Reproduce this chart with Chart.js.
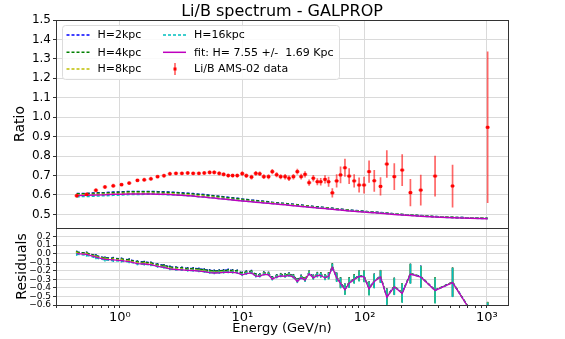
<!DOCTYPE html>
<html>
<head>
<meta charset="utf-8">
<script src="https://cdn.jsdelivr.net/npm/chart.js@4.4.1/dist/chart.umd.min.js"></script>
<style>
  body { margin: 0; background: #fff; }
  canvas { display: block; }
</style>
</head>
<body>
<canvas id="myChart" width="565" height="339"></canvas>
<script>
// Li/B AMS-02 points (GeV/n)
const energy = [0.443, 0.534, 0.636, 0.754, 0.882, 1.03, 1.19, 1.39, 1.58, 1.79,
  2.03, 2.29, 2.56, 2.87, 3.21, 3.58, 3.97, 4.42, 4.89, 5.41,
  5.90, 6.48, 7.04, 7.68, 8.34, 9.10, 10.0, 10.8, 11.9, 12.9,
  13.9, 15.0, 16.4, 17.6, 19.1, 20.6, 22.4, 24.1, 26.2, 28.2,
  30.3, 32.6, 35.2, 38.1, 41.1, 43.8, 47.5, 50.8, 54.5, 59.1,
  63.6, 69.1, 74.8, 82.2, 90.2, 99.0, 108.8, 120, 135, 152,
  175, 203, 237, 288, 377, 524, 1014]
const ratio = [0.596, 0.603, 0.624, 0.641, 0.647, 0.653, 0.661, 0.675, 0.678, 0.683,
  0.694, 0.699, 0.709, 0.711, 0.711, 0.713, 0.711, 0.711, 0.713, 0.716,
  0.716, 0.711, 0.706, 0.700, 0.700, 0.700, 0.710, 0.699, 0.692, 0.711,
  0.709, 0.694, 0.694, 0.720, 0.704, 0.694, 0.694, 0.686, 0.694, 0.720,
  0.694, 0.706, 0.663, 0.686, 0.668, 0.668, 0.680, 0.668, 0.611, 0.672,
  0.703, 0.740, 0.697, 0.672, 0.651, 0.651, 0.720, 0.673, 0.644, 0.759,
  0.694, 0.728, 0.612, 0.625, 0.697, 0.646, 0.948]
const ratioErr = [0.010, 0.010, 0.010, 0.010, 0.010, 0.010, 0.010, 0.010, 0.010, 0.010,
  0.010, 0.010, 0.010, 0.010, 0.010, 0.010, 0.010, 0.010, 0.010, 0.011,
  0.011, 0.011, 0.011, 0.011, 0.011, 0.011, 0.012, 0.012, 0.012, 0.012,
  0.012, 0.012, 0.013, 0.013, 0.013, 0.013, 0.014, 0.014, 0.014, 0.015,
  0.015, 0.016, 0.016, 0.017, 0.018, 0.019, 0.021, 0.026, 0.024, 0.034,
  0.043, 0.046, 0.041, 0.034, 0.039, 0.043, 0.057, 0.056, 0.047, 0.071,
  0.069, 0.082, 0.070, 0.079, 0.105, 0.110, 0.390]

// GALPROP predictions at the same energies
const modelH2 = [0.607, 0.608, 0.611, 0.612, 0.615, 0.616, 0.618, 0.618, 0.618, 0.618,
  0.617, 0.616, 0.615, 0.613, 0.611, 0.609, 0.607, 0.604, 0.602, 0.599,
  0.596, 0.593, 0.591, 0.588, 0.585, 0.583, 0.579, 0.577, 0.574, 0.572,
  0.569, 0.567, 0.565, 0.562, 0.560, 0.558, 0.556, 0.554, 0.552, 0.550,
  0.548, 0.545, 0.543, 0.541, 0.539, 0.537, 0.535, 0.533, 0.531, 0.529,
  0.527, 0.525, 0.522, 0.520, 0.518, 0.516, 0.514, 0.512, 0.510, 0.507,
  0.503, 0.500, 0.497, 0.494, 0.489, 0.485, 0.480]
const modelH4 = [0.606, 0.607, 0.609, 0.610, 0.613, 0.614, 0.616, 0.616, 0.616, 0.616,
  0.615, 0.614, 0.613, 0.611, 0.609, 0.607, 0.605, 0.602, 0.600, 0.597,
  0.595, 0.592, 0.589, 0.586, 0.584, 0.582, 0.578, 0.576, 0.573, 0.571,
  0.568, 0.566, 0.564, 0.561, 0.559, 0.557, 0.555, 0.553, 0.551, 0.549,
  0.547, 0.545, 0.543, 0.540, 0.538, 0.537, 0.535, 0.533, 0.531, 0.528,
  0.526, 0.524, 0.522, 0.520, 0.518, 0.516, 0.513, 0.511, 0.509, 0.506,
  0.503, 0.500, 0.497, 0.493, 0.489, 0.485, 0.480]
const modelH8 = [0.600, 0.601, 0.603, 0.604, 0.606, 0.608, 0.609, 0.609, 0.609, 0.609,
  0.608, 0.607, 0.606, 0.604, 0.602, 0.600, 0.598, 0.595, 0.593, 0.590,
  0.588, 0.585, 0.582, 0.579, 0.577, 0.575, 0.572, 0.570, 0.568, 0.566,
  0.564, 0.562, 0.560, 0.558, 0.556, 0.554, 0.552, 0.550, 0.548, 0.546,
  0.544, 0.542, 0.540, 0.537, 0.535, 0.534, 0.532, 0.530, 0.528, 0.526,
  0.524, 0.522, 0.520, 0.518, 0.516, 0.514, 0.512, 0.510, 0.508, 0.505,
  0.502, 0.499, 0.496, 0.492, 0.488, 0.484, 0.479]
const modelH16 = [0.591, 0.592, 0.594, 0.596, 0.598, 0.600, 0.602, 0.602, 0.603, 0.603,
  0.603, 0.602, 0.601, 0.599, 0.598, 0.596, 0.594, 0.591, 0.589, 0.587,
  0.585, 0.582, 0.580, 0.577, 0.575, 0.573, 0.570, 0.568, 0.566, 0.564,
  0.562, 0.560, 0.558, 0.556, 0.554, 0.552, 0.550, 0.548, 0.546, 0.544,
  0.542, 0.540, 0.538, 0.536, 0.534, 0.533, 0.531, 0.529, 0.527, 0.525,
  0.523, 0.521, 0.519, 0.517, 0.515, 0.513, 0.511, 0.509, 0.507, 0.504,
  0.501, 0.498, 0.495, 0.491, 0.487, 0.483, 0.478]
const modelFit = [0.597, 0.598, 0.600, 0.601, 0.603, 0.604, 0.605, 0.605, 0.605, 0.605,
  0.604, 0.603, 0.602, 0.600, 0.598, 0.596, 0.594, 0.591, 0.589, 0.586,
  0.584, 0.581, 0.579, 0.576, 0.574, 0.572, 0.569, 0.567, 0.565, 0.563,
  0.561, 0.559, 0.557, 0.555, 0.553, 0.551, 0.549, 0.547, 0.545, 0.543,
  0.541, 0.539, 0.537, 0.535, 0.533, 0.532, 0.530, 0.528, 0.526, 0.524,
  0.522, 0.520, 0.518, 0.516, 0.514, 0.512, 0.510, 0.508, 0.506, 0.503,
  0.500, 0.497, 0.494, 0.491, 0.487, 0.483, 0.478]

const ratioTicks = [0.5, 0.6, 0.7, 0.8, 0.9, 1.0, 1.1, 1.2, 1.3, 1.4, 1.5]
const residTicks = [-0.6, -0.5, -0.4, -0.3, -0.2, -0.1, 0.0, 0.1, 0.2]
const decadeTicks = [1, 10, 100, 1000]
const decadeLabels = ['10⁰', '10¹', '10²', '10³']

const FONT = '"DejaVu Sans", sans-serif'
Chart.defaults.font.family = FONT
Chart.defaults.color = '#000'

// x ticks: decades plus 2..9 minors inside the range
const xTicks = []
;[0.1, 1, 10, 100, 1000].forEach(d => {
  for (let k = 1; k <= 9; k++) {
    const v = +(d * k).toPrecision(3)
    if (v >= 0.3 && v <= 1488) xTicks.push(v)
  }
})

const pts = ys => ys.map((y, i) => ({x: energy[i], y: y}))
const resid = model => model.map((m, i) => (m - ratio[i]) / m)
const residErr = ratio.map((r, i) => ratioErr[i] / r)

const models = [
  {label: 'H=2kpc', data: modelH2, color: '#0000ff', dash: [3, 2]},
  {label: 'H=4kpc', data: modelH4, color: '#008000', dash: [3, 2]},
  {label: 'H=8kpc', data: modelH8, color: '#bfbf00', dash: [3, 2]},
  {label: 'H=16kpc', data: modelH16, color: '#00bfbf', dash: [3, 2]},
  {label: 'fit: H= 7.55 +/-  1.69 Kpc', data: modelFit, color: '#bf00bf', dash: []},
]

const datasets = []
models.forEach((m, i) => {
  datasets.push({
    label: m.label, data: pts(m.data), yAxisID: 'y',
    borderColor: m.color, borderDash: m.dash, borderWidth: 1.5,
    pointRadius: 0, fill: false, tension: 0, order: 10 - i,
  })
  datasets.push({
    label: m.label + ' res', data: pts(resid(m.data)), yAxisID: 'yRes',
    borderColor: m.color, borderDash: m.dash, borderWidth: 1.3,
    pointRadius: 0, fill: false, tension: 0, order: 10 - i,
    errors: i < 4 ? residErr : null, errorColor: m.color, errorWidth: 1.5,
  })
})
datasets.push({
  label: 'Li/B AMS-02 data', data: pts(ratio), yAxisID: 'y',
  showLine: false, pointStyle: 'rect', pointRadius: 2.1,
  backgroundColor: '#ff0000', borderWidth: 0, order: 0,
  errors: ratioErr, errorColor: 'rgba(255,0,0,0.6)', errorWidth: 1.7, errorCap: 2.2,
})

const errorBars = {
  id: 'errorBars',
  beforeDatasetDraw(chart, args) {
    const ds = chart.data.datasets[args.index]
    if (!ds.errors) return
    const xs = chart.scales.x, ys = chart.scales[ds.yAxisID]
    const ctx = chart.ctx
    ctx.save()
    ctx.beginPath()
    ctx.rect(xs.left, ys.top, xs.right - xs.left, ys.bottom - ys.top)
    ctx.clip()
    ctx.strokeStyle = ds.errorColor
    ctx.lineWidth = ds.errorWidth
    ds.data.forEach((p, i) => {
      const px = xs.getPixelForValue(p.x)
      const py = ys.getPixelForValue(p.y)
      ctx.beginPath()
      ctx.moveTo(px, ys.getPixelForValue(p.y - ds.errors[i]))
      ctx.lineTo(px, ys.getPixelForValue(p.y + ds.errors[i]))
      if (ds.errorCap) {
        ctx.moveTo(px - ds.errorCap, py)
        ctx.lineTo(px + ds.errorCap, py)
      }
      ctx.stroke()
    })
    ctx.restore()
  }
}

const decor = {
  id: 'decor',
  afterDraw(chart) {
    const ctx = chart.ctx
    const xs = chart.scales.x
    ctx.save()
    // frames round both panels
    ctx.strokeStyle = '#333'
    ctx.lineWidth = 1
    ;['y', 'yRes'].forEach(id => {
      const s = chart.scales[id]
      ctx.strokeRect(Math.round(xs.left) + 0.5, Math.round(s.top) + 0.5,
        Math.round(xs.right - xs.left), Math.round(s.bottom - s.top))
    })
    // title
    ctx.fillStyle = '#000'
    ctx.font = '16px ' + FONT
    ctx.textAlign = 'center'
    ctx.textBaseline = 'alphabetic'
    ctx.fillText('Li/B spectrum - GALPROP', (xs.left + xs.right) / 2, 16)

    // legend, two columns
    const bx = xs.left + 6.5, by = 25.5
    ctx.beginPath()
    ctx.roundRect(bx, by, 277, 54, 3)
    ctx.fillStyle = 'rgba(255,255,255,0.85)'
    ctx.fill()
    ctx.strokeStyle = '#dcdcdc'
    ctx.stroke()
    const rows = [35, 52.3, 69]
    const cols = [xs.left + 10.5, xs.left + 107]
    const entries = models.map(m => ({label: m.label, color: m.color, dash: m.dash}))
    entries.push({label: 'Li/B AMS-02 data', data: true})
    ctx.font = '11px ' + FONT
    ctx.textAlign = 'left'
    ctx.textBaseline = 'middle'
    entries.forEach((e, i) => {
      const cx = cols[Math.floor(i / 3)], cy = rows[i % 3]
      if (e.data) {
        ctx.strokeStyle = 'rgba(255,0,0,0.6)'
        ctx.lineWidth = 1.7
        ctx.setLineDash([])
        ctx.beginPath()
        ctx.moveTo(cx + 12, cy - 6)
        ctx.lineTo(cx + 12, cy + 6)
        ctx.stroke()
        ctx.fillStyle = '#ff0000'
        ctx.fillRect(cx + 10.5, cy - 1.5, 3, 3)
      } else {
        ctx.strokeStyle = e.color
        ctx.lineWidth = 1.5
        ctx.setLineDash(e.dash)
        ctx.beginPath()
        ctx.moveTo(cx, cy)
        ctx.lineTo(cx + 23, cy)
        ctx.stroke()
        ctx.setLineDash([])
      }
      ctx.fillStyle = '#000'
      ctx.fillText(e.label, cx + 31, cy + 0.5)
    })
    ctx.restore()
  }
}

const gridColor = '#dadada'

const config = {
  type: 'line',
  data: {datasets: datasets},
  plugins: [errorBars, decor],
  options: {
    responsive: false,
    animation: false,
    layout: {padding: {top: 20, right: 57, left: 0, bottom: 0}},
    plugins: {
      legend: {display: false},
      title: {display: false},
      tooltip: {enabled: false},
    },
    scales: {
      x: {
        type: 'logarithmic',
        position: 'bottom',
        min: 0.3,
        max: 1488,
        afterBuildTicks: s => { s.ticks = xTicks.map(v => ({value: v})) },
        afterFit: s => { s.height = 34 },
        border: {display: false},
        grid: {
          color: c => decadeTicks.includes(c.tick && c.tick.value) ? gridColor : 'rgba(0,0,0,0)',
          tickColor: '#333',
          tickLength: 3,
        },
        ticks: {
          autoSkip: false,
          maxRotation: 0,
          padding: 2,
          font: {size: 13},
          callback: v => {
            const k = decadeTicks.indexOf(v)
            return k >= 0 ? decadeLabels[k] : ''
          },
        },
        title: {
          display: true,
          text: 'Energy (GeV/n)',
          font: {size: 13},
          padding: {top: 0, bottom: 3},
        },
      },
      // residual panel is listed first so the stack puts it below the ratio panel
      yRes: {
        type: 'linear',
        position: 'left',
        stack: 'panels',
        stackWeight: 77,
        min: -0.6,
        max: 0.3,
        afterBuildTicks: s => { s.ticks = residTicks.map(v => ({value: v})) },
        afterFit: s => { s.width = 56 },
        border: {display: false},
        grid: {color: gridColor, tickColor: '#333', tickLength: 3},
        ticks: {
          autoSkip: false,
          font: {size: 9},
          padding: 2,
          callback: v => (v < -0.001 ? '−' + Math.abs(v).toFixed(1) : Math.abs(v).toFixed(1)),
        },
        title: {display: true, text: 'Residuals', font: {size: 14}, padding: {top: 14}},
      },
      y: {
        type: 'linear',
        position: 'left',
        stack: 'panels',
        stackWeight: 208,
        min: 0.43,
        max: 1.5,
        afterBuildTicks: s => { s.ticks = ratioTicks.map(v => ({value: v})) },
        afterFit: s => { s.width = 56 },
        border: {display: false},
        grid: {color: gridColor, tickColor: '#333', tickLength: 3},
        ticks: {autoSkip: false, font: {size: 12}, padding: 2, callback: v => v.toFixed(1)},
        title: {display: true, text: 'Ratio', font: {size: 14}, padding: {top: 12}},
      },
    },
  },
}

const myChart = new Chart(document.getElementById('myChart'), config)
</script>
</body>
</html>
